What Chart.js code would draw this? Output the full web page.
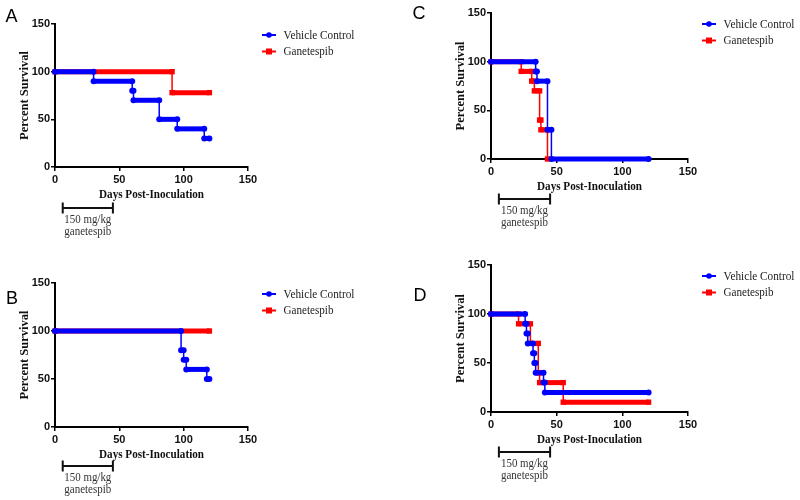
<!DOCTYPE html>
<html><head><meta charset="utf-8">
<script src="https://cdn.jsdelivr.net/npm/chart.js@4.4.1/dist/chart.umd.min.js"></script>
<style>
html,body{margin:0;padding:0;background:#fff;}
#wrap{position:relative;width:800px;height:500px;background:#fff;}
canvas{position:absolute;}
</style></head><body>
<div id="wrap">
<canvas id="cA" width="400" height="250" style="left:0;top:0;width:400px;height:250px"></canvas>
<canvas id="cC" width="400" height="250" style="left:400px;top:0;width:400px;height:250px"></canvas>
<canvas id="cB" width="400" height="250" style="left:0;top:250px;width:400px;height:250px"></canvas>
<canvas id="cD" width="400" height="250" style="left:400px;top:250px;width:400px;height:250px"></canvas>
</div>
<script>
// ---- data ----
const seriesNames = ['Vehicle Control', 'Ganetespib'];
const xTicks = [0, 50, 100, 150];
const yTicks = [0, 50, 100, 150];
const xTitle = 'Days Post-Inoculation';
const yTitle = 'Percent Survival';
const dosingDays = [6, 45];
const doseLabel = ['150 mg/kg', 'ganetespib'];

// Panel A
const A_vehDays = [0, 30, 60, 61, 81, 95, 116, 120];
const A_vehSurv = [100, 90, 80, 70, 50, 40, 30, 30];
const A_ganDays = [0, 91, 120];
const A_ganSurv = [100, 78, 78];
// Panel B
const B_vehDays = [0, 98, 100, 102, 118, 120];
const B_vehSurv = [100, 80, 70, 60, 50, 50];
const B_ganDays = [0, 120];
const B_ganSurv = [100, 100];
// Panel C
const C_vehDays = [0, 34, 35, 43, 46, 120];
const C_vehSurv = [100, 90, 80, 30, 0, 0];
const C_ganDays = [0, 23, 31, 33, 37, 38, 43];
const C_ganSurv = [100, 90, 80, 70, 40, 30, 0];
// Panel D
const D_vehDays = [0, 26, 27, 28, 32, 33, 34, 40, 41, 120];
const D_vehSurv = [100, 90, 80, 70, 60, 50, 40, 30, 20, 20];
const D_ganDays = [0, 21, 30, 36, 37, 55, 120];
const D_ganSurv = [100, 90, 70, 40, 30, 10, 10];

// ---- helpers ----
function buildSteps(days, surv) {
  const pts = [{x: days[0], y: surv[0]}];
  for (let i = 1; i < days.length; i++) {
    pts.push({x: days[i], y: surv[i - 1]});
    if (surv[i] !== surv[i - 1]) pts.push({x: days[i], y: surv[i]});
  }
  return pts;
}
function drawText(ctx, text, x, y, font, width, align, rot) {
  ctx.save();
  ctx.font = font;
  const w = ctx.measureText(text).width;
  const s = width ? width / w : 1;
  ctx.translate(x, y);
  if (rot) ctx.rotate(rot);
  ctx.scale(s, 1);
  ctx.textAlign = align || 'center';
  ctx.textBaseline = 'middle';
  ctx.fillText(text, 0, 0);
  ctx.restore();
}

const decoPlugin = {
  id: 'deco',
  afterDraw(chart, args, opts) {
    const ctx = chart.ctx;
    const a = chart.chartArea;
    const xs = chart.scales.x;
    ctx.fillStyle = '#000';
    drawText(ctx, opts.letter, opts.letterX, opts.letterY, '18px "Liberation Sans"', 0, 'center');
    ctx.fillStyle = '#111';
    drawText(ctx, xTitle, (a.left + a.right) / 2, a.bottom + 28, 'bold 12.5px "Liberation Serif"', 105, 'center');
    drawText(ctx, yTitle, a.left - 30.5, (a.top + a.bottom) / 2, 'bold 12.5px "Liberation Serif"', 89, 'center', -Math.PI / 2);
    chart.data.datasets.forEach((ds, i) => {
      const y = a.top + 11 + i * 16.5;
      const x0 = a.right + 14, x1 = a.right + 28, xm = a.right + 21;
      ctx.save();
      ctx.strokeStyle = ds.borderColor; ctx.fillStyle = ds.borderColor;
      ctx.lineWidth = 2;
      ctx.beginPath(); ctx.moveTo(x0, y); ctx.lineTo(x1, y); ctx.stroke();
      if (ds.pointStyle === 'rect') { ctx.fillRect(xm - 3, y - 3, 6, 6); }
      else { ctx.beginPath(); ctx.arc(xm, y, 2.8, 0, Math.PI * 2); ctx.fill(); }
      ctx.restore();
      ctx.fillStyle = '#222';
      drawText(ctx, ds.label, a.right + 35.5, y, '13.5px "Liberation Serif"', i === 0 ? 71 : 50, 'left');
    });
    const bx0 = xs.getPixelForValue(dosingDays[0]);
    const bx1 = xs.getPixelForValue(dosingDays[1]);
    const by = a.bottom + opts.bar;
    ctx.save();
    ctx.strokeStyle = '#111'; ctx.lineWidth = 2;
    ctx.beginPath();
    ctx.moveTo(bx0, by); ctx.lineTo(bx1, by);
    ctx.moveTo(bx0, by - 5.5); ctx.lineTo(bx0, by + 5.5);
    ctx.moveTo(bx1, by - 5.5); ctx.lineTo(bx1, by + 5.5);
    ctx.stroke();
    ctx.restore();
    ctx.fillStyle = '#333';
    drawText(ctx, doseLabel[0], (bx0 + bx1) / 2, by + 12, '13px "Liberation Serif"', 47, 'center');
    drawText(ctx, doseLabel[1], (bx0 + bx1) / 2, by + 24, '13px "Liberation Serif"', 47, 'center');
  }
};

function makePanel(id, letter, lx, ly, area, bar, vD, vS, gD, gS) {
  const yW = 30, xH = 20;
  const tickFont = {family: '"Liberation Sans"', weight: 'bold', size: 11};
  const seg = {borderWidth: c => (c.p0.parsed.y === c.p1.parsed.y ? 5 : 1.5)};
  new Chart(document.getElementById(id), {
    type: 'line',
    data: {
      datasets: [
        {label: seriesNames[0], data: buildSteps(vD, vS), borderColor: '#0000ff', backgroundColor: '#0000ff',
         pointStyle: 'circle', pointRadius: 3, pointBorderWidth: 0, borderWidth: 1.5, segment: seg, clip: false},
        {label: seriesNames[1], data: buildSteps(gD, gS), borderColor: '#ff0000', backgroundColor: '#ff0000',
         pointStyle: 'rect', pointRadius: 3.8, pointBorderWidth: 0, borderWidth: 1.5, segment: seg, clip: false}
      ]
    },
    options: {
      responsive: false, animation: false, events: [],
      layout: {padding: {left: area.left - yW, top: area.top, right: 400 - area.right, bottom: 250 - area.bottom - xH}},
      plugins: {legend: {display: false}, tooltip: {enabled: false},
                deco: {letter: letter, letterX: lx, letterY: ly, bar: bar}},
      scales: {
        x: {type: 'linear', min: 0, max: 150,
            afterFit(s) { s.height = xH; },
            afterBuildTicks(s) { s.ticks = xTicks.map(v => ({value: v})); },
            ticks: {font: tickFont, color: '#111', padding: 2, maxRotation: 0, autoSkip: false},
            grid: {drawOnChartArea: false, drawTicks: true, tickLength: 4, color: '#000', lineWidth: 1.5},
            border: {display: true, color: '#000', width: 2}},
        y: {type: 'linear', min: 0, max: 150,
            afterFit(s) { s.width = yW; },
            afterBuildTicks(s) { s.ticks = yTicks.map(v => ({value: v})); },
            ticks: {font: tickFont, color: '#111', padding: 1, autoSkip: false},
            grid: {drawOnChartArea: false, drawTicks: true, tickLength: 4, color: '#000', lineWidth: 1.5},
            border: {display: true, color: '#000', width: 2}}
      }
    },
    plugins: [decoPlugin]
  });
}

makePanel('cA', 'A', 11.5, 17, {left: 55, top: 24, right: 248, bottom: 167}, 41, A_vehDays, A_vehSurv, A_ganDays, A_ganSurv);
makePanel('cB', 'B', 12, 49, {left: 55, top: 33, right: 248, bottom: 177}, 39, B_vehDays, B_vehSurv, B_ganDays, B_ganSurv);
makePanel('cC', 'C', 19, 14, {left: 91, top: 13, right: 288, bottom: 159}, 40, C_vehDays, C_vehSurv, C_ganDays, C_ganSurv);
makePanel('cD', 'D', 20, 46, {left: 91, top: 15, right: 288, bottom: 162}, 40, D_vehDays, D_vehSurv, D_ganDays, D_ganSurv);
</script>
</body></html>
